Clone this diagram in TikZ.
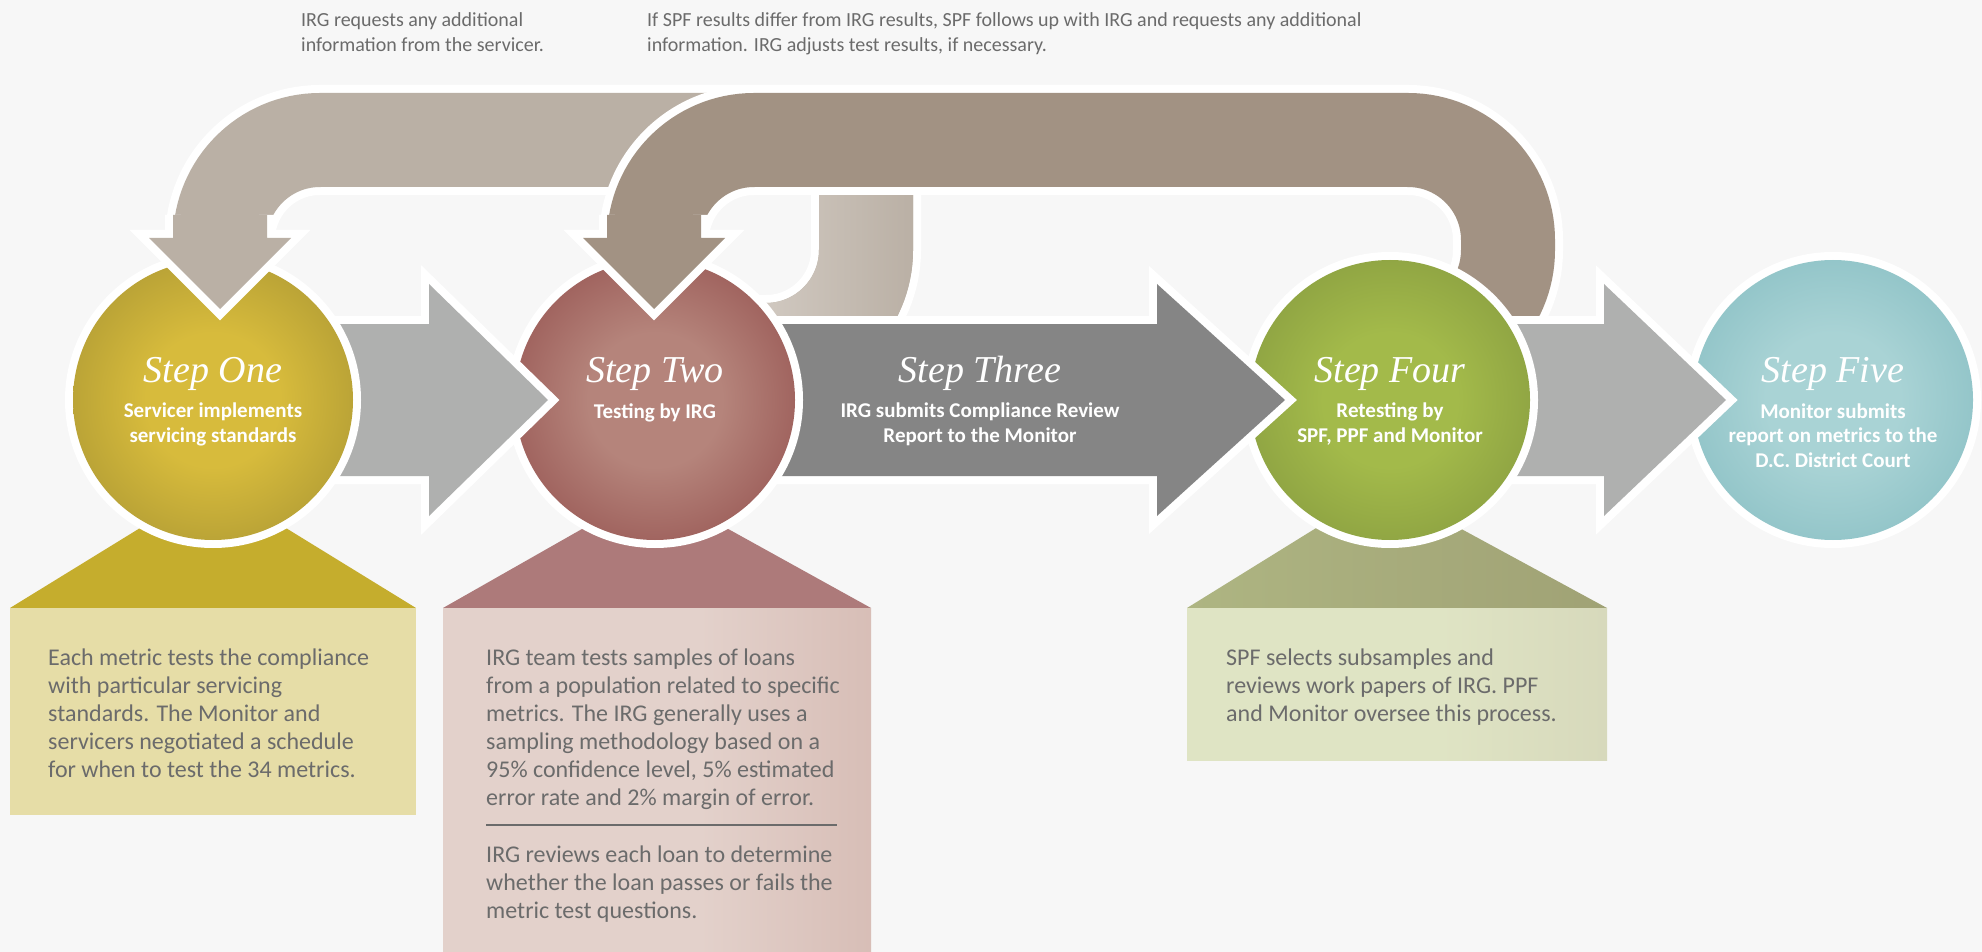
\documentclass[tikz,border=0pt]{standalone}
\usepackage{fontspec}
\newfontfamily\bodyfont{Carlito}
\newfontfamily\titlefont{Liberation Serif}
\definecolor{bg}{HTML}{F7F7F7}
\definecolor{lightband}{HTML}{BAB0A5}
\definecolor{lighttail}{HTML}{DAD3CC}
\definecolor{darkband}{HTML}{A29283}
\definecolor{arrowlight}{HTML}{AFB0AF}
\definecolor{arrowdark}{HTML}{858585}
\definecolor{txtgray}{HTML}{6B6B6B}
\definecolor{c1top}{HTML}{C5AD2D}
\definecolor{c1box}{HTML}{E6DDA7}
\definecolor{c2top}{HTML}{AD7A7A}
\definecolor{c2boxl}{HTML}{E3D1CB}
\definecolor{c2boxr}{HTML}{C9A69D}
\definecolor{c4topl}{HTML}{AEB582}
\definecolor{c4topr}{HTML}{A0A275}
\definecolor{c4boxl}{HTML}{DFE4C4}
\definecolor{c4boxr}{HTML}{CDCBB1}
\definecolor{s1in}{HTML}{D7BB3C}
\definecolor{s1out}{HTML}{85782C}
\definecolor{s2in}{HTML}{B5847B}
\definecolor{s2out}{HTML}{7A282B}
\definecolor{s4in}{HTML}{A3BA4A}
\definecolor{s4out}{HTML}{6E8037}
\definecolor{s5in}{HTML}{A9D3D5}
\definecolor{s5out}{HTML}{6BACB3}
\colorlet{cin}{white}
\colorlet{cout}{black}
\colorlet{ca}{white}
\colorlet{cb}{black}
\pgfdeclareradialshading[cin,cout]{stepball}{\pgfpoint{0bp}{0bp}}{color(0bp)=(cin); color(12bp)=(cin); color(50bp)=(cout)}
\pgfdeclarehorizontalshading[ca,cb]{boxshade}{100bp}{color(0bp)=(ca); color(55bp)=(ca); color(100bp)=(cb)}
\newcommand{\stepcircle}[4]{%
  \fill[white] (#1,#2) circle[radius=148pt];
  \colorlet{cin}{#3}\colorlet{cout}{#4}%
  \shade[shading=stepball] (#1,#2) circle[radius=140pt];}
\newcommand{\flowarrow}[4]{%
  \draw[white,line width=16pt,line join=miter] (#1,324)--(#2,324)--(#2,284)--(#3,400)--(#2,516)--(#2,476)--(#1,476)--cycle;
  \fill[#4] (#1,324)--(#2,324)--(#2,284)--(#3,400)--(#2,516)--(#2,476)--(#1,476)--cycle;}
\newcommand{\downhead}[2]{%
  \draw[white,line width=16pt,line join=miter] (#1-47,215)--(#1-47,238)--(#1-71,238)--(#1,309)--(#1+71,238)--(#1+47,238)--(#1+47,215);
  \fill[#2] (#1-47,215)--(#1-47,238)--(#1-71,238)--(#1,309)--(#1+71,238)--(#1+47,238)--(#1+47,215)--cycle;}
\tikzset{
  toptext/.style={anchor=base west,align=left,inner sep=0pt,text=txtgray,font=\bodyfont\fontsize{20}{25}\selectfont},
  bodytext/.style={anchor=base west,align=left,inner sep=0pt,text=txtgray,font=\bodyfont\fontsize{24}{28}\selectfont},
  steptitle/.style={anchor=base,inner sep=0pt,text=white,font=\titlefont\itshape\fontsize{38}{40}\selectfont},
  steplabel/.style={anchor=base,align=center,inner sep=0pt,text=white,font=\bodyfont\bfseries\fontsize{21}{24.5}\selectfont},
  bandedge/.style={white,line width=110pt,rounded corners=100pt},
  bandfill/.style={line width=94pt,rounded corners=100pt},
}
\begin{document}
\begin{tikzpicture}[x=1pt,y=-1pt]
\useasboundingbox (0,0) rectangle (1982,952);
\fill[bg] (0,0) rectangle (1982,952);

% notes on top (node anchor = baseline of the last line)
\node[toptext] (noteA) at (301,52) {IRG requests any additional\\information from the servicer.};
\node[toptext] (noteB) at (647,52) {If SPF results differ from IRG results, SPF follows up with IRG and requests any additional\\information. IRG adjusts test results, if necessary.};

% callouts
\fill[c1top] (145,525)--(281,525)--(416,608)--(10,608)--cycle;
\fill[c1box] (10,608) rectangle (416,815);
\fill[c2top] (589,525)--(721,525)--(871,608)--(443,608)--cycle;
\colorlet{ca}{c2boxl}\colorlet{cb}{c2boxr}
\shade[shading=boxshade] (443,608) rectangle (871,952);
\shade[left color=c4topl,right color=c4topr] (1321,525)--(1454,525)--(1607,608)--(1187,608)--cycle;
\colorlet{ca}{c4boxl}\colorlet{cb}{c4boxr}
\shade[shading=boxshade] (1187,608) rectangle (1607,760);

% light feedback band (Step Two back to Step One)
\draw[bandedge] (655,350)--(866,350)--(866,140);
\draw[bandedge] (913,140)--(220,140)--(220,238);
\draw[bandfill,lightband] (655,350)--(866,350)--(866,140);
\draw[bandfill,lightband] (913,140)--(220,140)--(220,238);
\shade[left color=lighttail,right color=lightband] (819,190)--(819,250) arc[start angle=0,end angle=90,radius=53] --(700,303)--(700,397)--(766,397) arc[start angle=90,end angle=0,radius=147] --(913,190)--cycle;
% dark feedback band (Step Four back to Step Two)
\draw[bandedge] (1390,350)--(1508,350)--(1508,140)--(654,140)--(654,238);
\draw[bandfill,darkband] (1390,350)--(1508,350)--(1508,140)--(654,140)--(654,238);

% circles and flow arrows
\stepcircle{1833}{400}{s5in}{s5out}
\flowarrow{1500}{1604}{1726}{arrowlight}
\stepcircle{1390}{400}{s4in}{s4out}
\flowarrow{720}{1157}{1285}{arrowdark}
\stepcircle{655}{400}{s2in}{s2out}
\flowarrow{300}{429}{548}{arrowlight}
\stepcircle{213}{400}{s1in}{s1out}

% arrow heads of the feedback bands
\downhead{220}{lightband}
\downhead{654}{darkband}

% step texts
\node[steptitle] (t1) at (213,382) {Step One};
\node[steplabel] (l1) at (213,442) {Servicer implements\\servicing standards};
\node[steptitle] (t2) at (655,382) {Step Two};
\node[steplabel] (l2) at (655,418) {Testing by IRG};
\node[steptitle] (t3) at (980,382) {Step Three};
\node[steplabel] (l3) at (980,442) {IRG submits Compliance Review\\Report to the Monitor};
\node[steptitle] (t4) at (1390,382) {Step Four};
\node[steplabel] (l4) at (1390,442) {Retesting by\\SPF, PPF and Monitor};
\node[steptitle] (t5) at (1833,382) {Step Five};
\node[steplabel] (l5) at (1833,467) {Monitor submits\\report on metrics to the\\D.C. District Court};

% callout texts
\node[bodytext] (b1) at (48,777) {Each metric tests the compliance\\with particular servicing\\standards. The Monitor and\\servicers negotiated a schedule\\for when to test the 34 metrics.};
\node[bodytext] (b2) at (486,805) {IRG team tests samples of loans\\from a population related to specific\\metrics. The IRG generally uses a\\sampling methodology based on a\\95\% confidence level, 5\% estimated\\error rate and 2\% margin of error.};
\draw[txtgray,line width=1.3pt] (486,825)--(837,825);
\node[bodytext] (b2b) at (486,918) {IRG reviews each loan to determine\\whether the loan passes or fails the\\metric test questions.};
\node[bodytext] (b4) at (1226,721) {SPF selects subsamples and\\reviews work papers of IRG. PPF\\and Monitor oversee this process.};
\end{tikzpicture}
\end{document}
